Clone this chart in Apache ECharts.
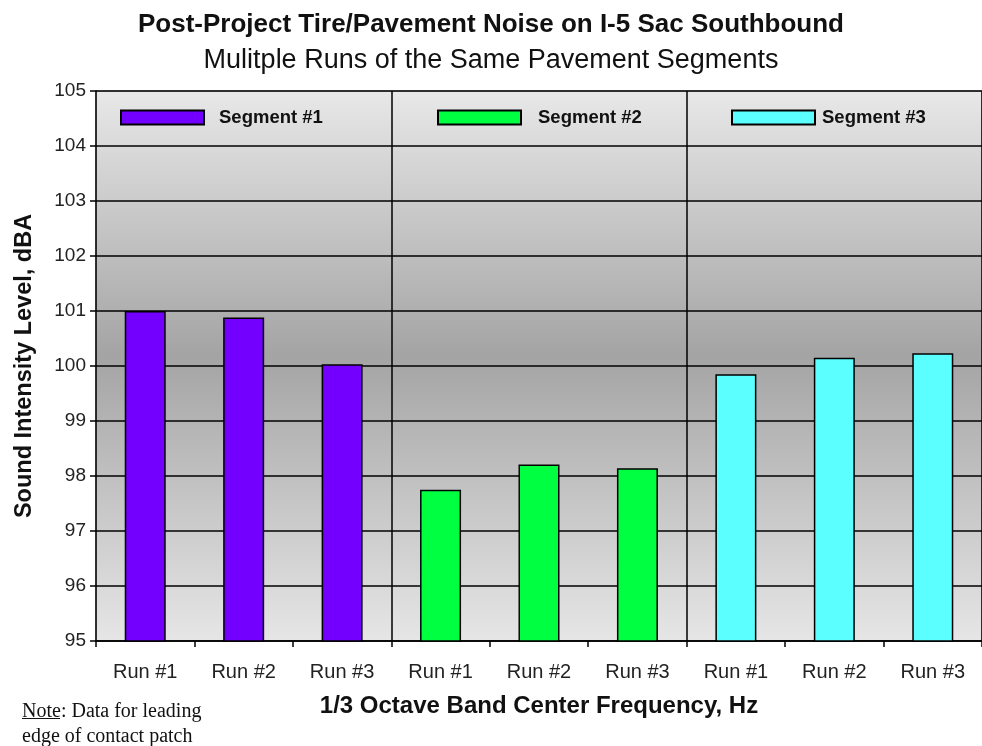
<!DOCTYPE html>
<html>
<head>
<meta charset="utf-8">
<script src="https://cdn.jsdelivr.net/npm/echarts@6/dist/echarts.min.js"></script>
<style>
html,body{margin:0;padding:0;background:#fff;}
#chart{width:982px;height:746px;}
</style>
</head>
<body>
<div id="chart"></div>
<script>
// ---- data ----
var categories = ['Run #1','Run #2','Run #3','Run #1','Run #2','Run #3','Run #1','Run #2','Run #3'];
var segmentNames = ['Segment #1','Segment #2','Segment #3'];
var seg1 = [101.0, 100.88, 100.03, '-', '-', '-', '-', '-', '-'];
var seg2 = ['-', '-', '-', 97.75, 98.21, 98.14, '-', '-', '-'];
var seg3 = ['-', '-', '-', '-', '-', '-', 99.85, 100.15, 100.23];
var yTicks = [95, 96, 97, 98, 99, 100, 101, 102, 103, 104, 105];
var titleText = 'Post-Project Tire/Pavement Noise on I-5 Sac Southbound';
var subtitleText = 'Mulitple Runs of the Same Pavement Segments';
var yName = 'Sound Intensity Level, dBA';
var xName = '1/3 Octave Band Center Frequency, Hz';
var noteLines = ['Data for leading', 'edge of contact patch'];

var colors = ['#7300ff', '#00ff41', '#5cffff'];
var FONT = "'Liberation Sans', Arial, sans-serif";
var SERIF = "'Liberation Serif', 'Times New Roman', serif";

var chart = echarts.init(document.getElementById('chart'), null, {renderer: 'canvas'});

function bar(name, data, color) {
  return {
    name: name, type: 'bar', data: data,
    barWidth: 41, barGap: '-100%',
    itemStyle: {color: color, borderColor: '#000', borderWidth: 1.5},
    emphasis: {disabled: true}
  };
}

function legend(name, left, padLeft) {
  return {
    data: [{name: name, icon: 'rect'}], left: left, top: 108, padding: 0,
    itemWidth: 83, itemHeight: 14, selectedMode: false,
    textStyle: {fontFamily: FONT, fontWeight: 'bold', fontSize: 18.5, color: '#111', padding: [0, 0, 0, padLeft]}
  };
}

var option = {
  backgroundColor: '#fff',
  animation: false,
  title: [
    {text: titleText, left: 'center', top: 7, textStyle: {fontFamily: FONT, fontWeight: 'bold', fontSize: 26, color: '#111'}},
    {text: subtitleText, left: 'center', top: 42, textStyle: {fontFamily: FONT, fontWeight: 'normal', fontSize: 27, color: '#111'}}
  ],
  legend: [
    legend(segmentNames[0], 120, 10),
    legend(segmentNames[1], 437, 12),
    legend(segmentNames[2], 731, 2)
  ],
  grid: {
    left: 96, top: 91, width: 891, height: 550,
    show: true, borderColor: '#888', borderWidth: 1,
    backgroundColor: {
      type: 'linear', x: 0, y: 0, x2: 0, y2: 1,
      colorStops: [
        {offset: 0, color: '#e8e8e8'},
        {offset: 0.48, color: '#a4a4a4'},
        {offset: 1, color: '#e6e6e6'}
      ]
    }
  },
  xAxis: {
    type: 'category', data: categories,
    name: xName, nameLocation: 'middle', nameGap: 53,
    nameTextStyle: {fontFamily: FONT, fontWeight: 'bold', fontSize: 24, color: '#111'},
    axisLine: {lineStyle: {color: '#000', width: 1.5}},
    axisTick: {show: true, length: 6, lineStyle: {color: '#000', width: 1.5}},
    axisLabel: {fontFamily: FONT, fontSize: 20, color: '#222', margin: 21},
    splitLine: {
      show: true,
      interval: function (index) { return index === 3 || index === 6; },
      lineStyle: {color: '#000', width: 1.5}
    }
  },
  yAxis: {
    type: 'value', min: yTicks[0], max: yTicks[yTicks.length - 1], interval: 1,
    name: yName, nameLocation: 'middle', nameGap: 59, nameRotate: 90,
    nameTextStyle: {fontFamily: FONT, fontWeight: 'bold', fontSize: 23.5, color: '#111'},
    axisLine: {show: true, lineStyle: {color: '#000', width: 1.5}},
    axisTick: {show: true, length: 6, lineStyle: {color: '#000', width: 1.5}},
    axisLabel: {fontFamily: FONT, fontSize: 19, color: '#222', margin: 10},
    splitLine: {show: true, lineStyle: {color: '#000', width: 1.5}}
  },
  series: [
    bar(segmentNames[0], seg1, colors[0]),
    bar(segmentNames[1], seg2, colors[1]),
    bar(segmentNames[2], seg3, colors[2])
  ],
  graphic: [
    {
      type: 'text', left: 22, top: 699,
      style: {
        text: '{u|Note}: ' + noteLines[0] + '\n' + noteLines[1],
        fontFamily: SERIF, fontSize: 20, lineHeight: 25, fill: '#111',
        rich: {u: {fontFamily: SERIF, fontSize: 20, lineHeight: 25, fill: '#111'}}
      }
    },
    {
      type: 'rect', left: 22, top: 718,
      shape: {width: 38, height: 1},
      style: {fill: '#111'}
    }
  ]
};
chart.setOption(option);
</script>
</body>
</html>
